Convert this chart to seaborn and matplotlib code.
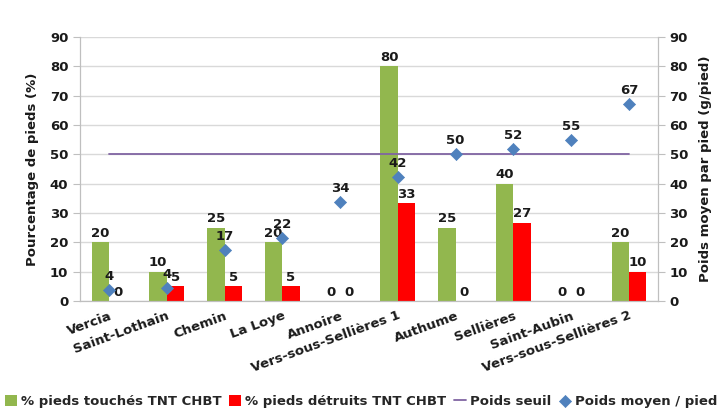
import matplotlib
matplotlib.use("Agg")
import matplotlib.pyplot as plt
import seaborn as sns
import pandas as pd
import numpy as np

sites = ["Vercia", "Saint-Lothain", "Chemin", "La Loye", "Annoire",
         "Vers-sous-Sellières 1", "Authume", "Sellières", "Saint-Aubin",
         "Vers-sous-Sellières 2"]
touches = [20, 10, 25, 20, 0, 80, 25, 40, 0, 20]
detruits = [0, 5, 5, 5, 0, 33.3, 0, 26.7, 0, 10]
poids_moyen = [3.6, 4.4, 17.4, 21.6, 33.6, 42.3, 50, 51.7, 55, 67]
poids_seuil = [50, 50, 50, 50, 50, 50, 50, 50, 50, 50]
yticks = [0, 10, 20, 30, 40, 50, 60, 70, 80, 90]

lab_t = "% pieds touchés TNT CHBT"
lab_d = "% pieds détruits TNT CHBT"
lab_s = "Poids seuil"
lab_p = "Poids moyen / pied"

GREEN = "#92B74E"
RED = "#FF0000"
PURPLE = "#8064A2"
BLUE = "#4F81BD"
GRID = "#D9D9D9"
AXC = "#BFBFBF"
TXT = "#1A1A1A"

sns.set_style("white")
plt.rcParams["font.family"] = ["DejaVu Sans"]
plt.rcParams["font.weight"] = "bold"

df = pd.DataFrame({
    "site": sites * 2,
    "val": touches + detruits,
    "serie": [lab_t] * len(sites) + [lab_d] * len(sites),
})
dfl = pd.DataFrame({"site": sites, "poids": poids_moyen, "seuil": poids_seuil,
                    "idx": np.arange(len(sites))})

fig = plt.figure(figsize=(7.22, 4.11), dpi=100)
ax = fig.add_axes([0.111, 0.268, 0.8, 0.642])

sns.barplot(data=df, x="site", y="val", hue="serie", palette=[GREEN, RED],
            width=0.6, saturation=1, ax=ax, legend=True, linewidth=0,
            edgecolor="none")
for cont in ax.containers:
    ax.bar_label(cont, fmt="%.0f", padding=1.5, fontsize=9.5,
                 fontweight="bold", color=TXT)

ax.set_ylim(0, 90)
ax.set_xlim(-0.5, len(sites) - 0.5)
ax.set_yticks(yticks)
ax.yaxis.grid(True, color=GRID, lw=1)
ax.set_axisbelow(True)
ax.set_xlabel("")
ax.set_ylabel("Pourcentage de pieds (%)", fontsize=9.5, fontweight="bold",
              color=TXT, labelpad=8)
ax.set_xticks(range(len(sites)))
ax.set_xticklabels(sites, rotation=20, ha="right", rotation_mode="anchor",
                   fontsize=9.5, fontweight="bold", color=TXT)
ax.set_xticks(np.arange(-0.5, len(sites)), minor=True)
ax.tick_params(axis="x", which="major", length=0, pad=6)
ax.tick_params(axis="x", which="minor", length=5, color=AXC, width=1)
ax.tick_params(axis="y", length=5, color=AXC, labelsize=9.5, labelcolor=TXT)
for s in ax.spines.values():
    s.set_color(AXC)
ax.spines["top"].set_visible(False)

ax2 = ax.twinx()
sns.lineplot(data=dfl, x="idx", y="seuil", color=PURPLE, lw=1.3, ax=ax2,
             label=lab_s, legend=False)
sns.scatterplot(data=dfl, x="idx", y="poids", marker="D", s=38, color=BLUE,
                edgecolor=BLUE, ax=ax2, label=lab_p, legend=False, zorder=5)
for i, v in enumerate(poids_moyen):
    ax2.annotate(f"{v:.0f}", (i, v), xytext=(0, 5), textcoords="offset points",
                 ha="center", va="bottom", fontsize=9.5, fontweight="bold",
                 color=TXT)
ax2.set_ylim(0, 90)
ax2.set_yticks(yticks)
ax2.set_xlim(-0.5, len(sites) - 0.5)
ax2.set_ylabel("Poids moyen par pied (g/pied)", fontsize=9.5,
               fontweight="bold", color=TXT, labelpad=8)
ax2.set_xlabel("")
ax2.tick_params(axis="y", length=5, color=AXC, labelsize=9.5, labelcolor=TXT)
for s in ax2.spines.values():
    s.set_color(AXC)
ax2.spines["top"].set_visible(False)

h1, l1 = ax.get_legend_handles_labels()
ax.get_legend().remove()
h2, l2 = ax2.get_legend_handles_labels()
fig.legend(h1 + h2, l1 + l2, loc="center left", bbox_to_anchor=(0.007, 0.022),
           ncol=4, frameon=False, fontsize=9.5, handlelength=0.9,
           handleheight=0.9, handletextpad=0.3, columnspacing=0.6,
           borderaxespad=0, borderpad=0)

fig.savefig("out.png", dpi=100)
